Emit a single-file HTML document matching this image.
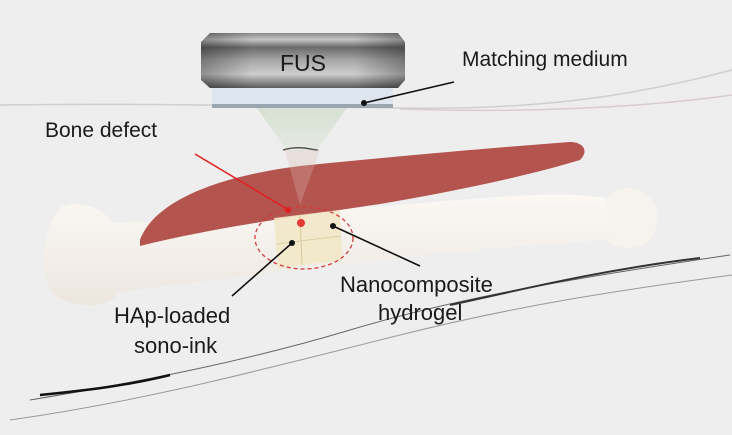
<!DOCTYPE html>
<html><head><meta charset="utf-8"><style>
html,body{margin:0;padding:0;width:732px;height:435px;overflow:hidden;background:#eeeeee;}
svg text{font-family:"Liberation Sans",Arial,sans-serif;fill:#1a1a1a;}
</style></head><body>
<svg width="732" height="435" viewBox="0 0 732 435" xmlns="http://www.w3.org/2000/svg">
<defs>
<linearGradient id="fus" x1="0" y1="0" x2="0" y2="1">
<stop offset="0" stop-color="#8a8a8a"/><stop offset="0.12" stop-color="#c4c4c4"/><stop offset="0.26" stop-color="#6a6a6a"/><stop offset="0.5" stop-color="#a8a8a8"/><stop offset="0.75" stop-color="#cdcdcd"/><stop offset="0.9" stop-color="#8a8a8a"/><stop offset="1" stop-color="#5a5a5a"/>
</linearGradient>
<linearGradient id="fush" x1="0" y1="0" x2="1" y2="0">
<stop offset="0" stop-color="#000" stop-opacity="0.3"/><stop offset="0.25" stop-color="#000" stop-opacity="0"/><stop offset="0.75" stop-color="#000" stop-opacity="0"/><stop offset="1" stop-color="#000" stop-opacity="0.3"/>
</linearGradient>
<linearGradient id="cone" x1="0" y1="0" x2="0" y2="1">
<stop offset="0" stop-color="#d3dfcf"/><stop offset="1" stop-color="#e4e9e1"/>
</linearGradient>
<linearGradient id="bone" x1="0" y1="0" x2="0" y2="1">
<stop offset="0" stop-color="#fbf8f5"/><stop offset="1" stop-color="#ece6df"/>
</linearGradient>
</defs>
<rect width="732" height="435" fill="#eeeeee"/>
<path d="M0 105 C150 103 250 106 400 108 C520 110 620 100 732 70" stroke="#cfcfcf" stroke-width="1.5" fill="none"/>
<path d="M400 109 C520 113 640 108 732 95" stroke="#d8cbd2" stroke-width="1.5" fill="none"/>
<path d="M30 400 C150 380 250 360 350 330 C450 300 560 280 730 255" stroke="#666" stroke-width="1" fill="none"/>
<path d="M40 395 C90 390 130 385 170 375" stroke="#111" stroke-width="2.5" fill="none"/>
<path d="M450 305 C520 290 600 270 700 258" stroke="#333" stroke-width="2" fill="none"/>
<path d="M10 420 C150 400 260 370 400 335 C520 305 620 290 732 275" stroke="#999" stroke-width="1" fill="none"/>
<!-- bone -->
<circle cx="628" cy="218" r="30" fill="#f6f2ee"/>
<path d="M60 208 C75 200 100 205 112 222 C200 222 300 212 400 205 C480 198 560 190 605 198 L612 240 C540 243 450 252 350 264 C250 276 160 286 118 292 C110 310 70 310 52 292 C40 270 42 232 60 208 Z" fill="url(#bone)"/>
<!-- muscle -->
<path d="M140 240 C155 200 220 176 300 166 C400 156 490 148 570 142 C582 142 590 150 580 160 C520 178 450 192 380 204 C300 216 210 228 140 246 Z" fill="#b4544f"/>
<!-- beam cone -->
<path d="M257 108 L347 108 L318 148 C310 152 295 150 285 148 Z" fill="url(#cone)" opacity="0.9"/>
<path d="M283 150 C300 145 312 150 318 150" stroke="#555" stroke-width="1.5" fill="none"/>
<path d="M285 150 L300 205 L320 150 Z" fill="#d9b8b0" opacity="0.3"/>
<rect x="212" y="86" width="181" height="22" fill="#dde6ee"/>
<rect x="212" y="104" width="181" height="4" fill="#9aa7b3"/>
<path d="M210 33 L398 33 L405 42 L405 80 L398 88 L210 88 L201 80 L201 42 Z" fill="url(#fus)"/>
<path d="M210 33 L398 33 L405 42 L405 80 L398 88 L210 88 L201 80 L201 42 Z" fill="url(#fush)"/>
<text x="303" y="71" font-size="23" text-anchor="middle">FUS</text>
<path d="M274 218 L340 210 L342 260 L278 268 Z" fill="#f2e7c6" opacity="0.9"/>
<line x1="300" y1="216" x2="302" y2="265" stroke="#d8c89c" stroke-width="1"/>
<line x1="276" y1="244" x2="341" y2="236" stroke="#ddd0a8" stroke-width="1"/>
<circle cx="301" cy="223" r="4" fill="#e53935"/>
<ellipse cx="304" cy="238" rx="49" ry="31" fill="none" stroke="#d23b3b" stroke-width="1.3" stroke-dasharray="4,3"/>
<line x1="195" y1="154" x2="287" y2="209" stroke="#e02020" stroke-width="1.6"/>
<circle cx="288" cy="210" r="3" fill="#e02020"/>
<line x1="364" y1="103" x2="454" y2="82" stroke="#111" stroke-width="1.6"/>
<circle cx="364" cy="103" r="3" fill="#111"/>
<line x1="292" y1="243" x2="232" y2="296" stroke="#111" stroke-width="1.6"/>
<circle cx="292" cy="243" r="3" fill="#111"/>
<line x1="333" y1="226" x2="420" y2="266" stroke="#111" stroke-width="1.6"/>
<circle cx="333" cy="226" r="3" fill="#111"/>
<text x="462" y="66" font-size="21">Matching medium</text>
<text x="45" y="137" font-size="21">Bone defect</text>
<text x="340" y="292" font-size="22">Nanocomposite</text>
<text x="378" y="320" font-size="22">hydrogel</text>
<text x="114" y="323" font-size="22">HAp-loaded</text>
<text x="134" y="353" font-size="22">sono-ink</text>
</svg>
</body></html>
